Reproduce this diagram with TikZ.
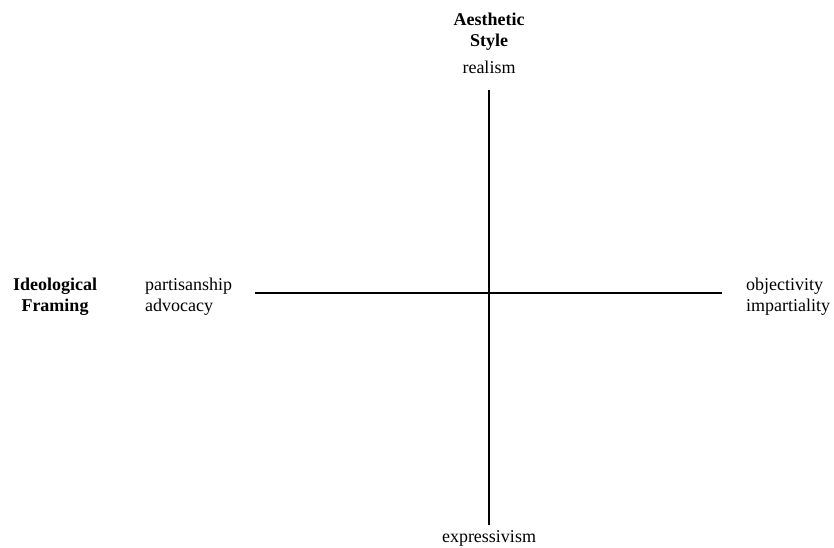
\documentclass[tikz,border=0pt]{standalone}
\usepackage{fontspec}
\setmainfont{Liberation Serif}
\usepackage{tikz}
\usetikzlibrary{positioning}

\begin{document}
\begin{tikzpicture}[
		x=1pt, y=1pt,
		every node/.style={font=\fontsize{18}{21}\selectfont, inner sep=0pt, align=center},
		axistitle/.style={font=\fontsize{18}{21}\selectfont\bfseries},
		polelabel/.style={align=left},
		axisline/.style={line width=1.8pt, black}
	]
	\useasboundingbox (0,0) rectangle (834,547);
	% axis end points
	\coordinate (top) at (489,457);
	\coordinate (bottom) at (489,22);
	\coordinate (left) at (255,254);
	\coordinate (right) at (722,254);
	% vertical axis: aesthetic style
	\node[axistitle] (aesthetic) at (489,515) {Aesthetic\\Style};
	\node (realism) at (489,480) {realism};
	\node (express) at (489,9) {expressivism};
	% horizontal axis: ideological framing
	\node[axistitle] (ideo) at (55,250) {Ideological\\Framing};
	\node[polelabel, anchor=west] (partisan) at (145,250) {partisanship\\advocacy};
	\node[polelabel, anchor=west] (objective) at (746,250) {objectivity\\impartiality};
	\draw[axisline] (top) -- (bottom);
	\draw[axisline] (left) -- (right);
\end{tikzpicture}
\end{document}
